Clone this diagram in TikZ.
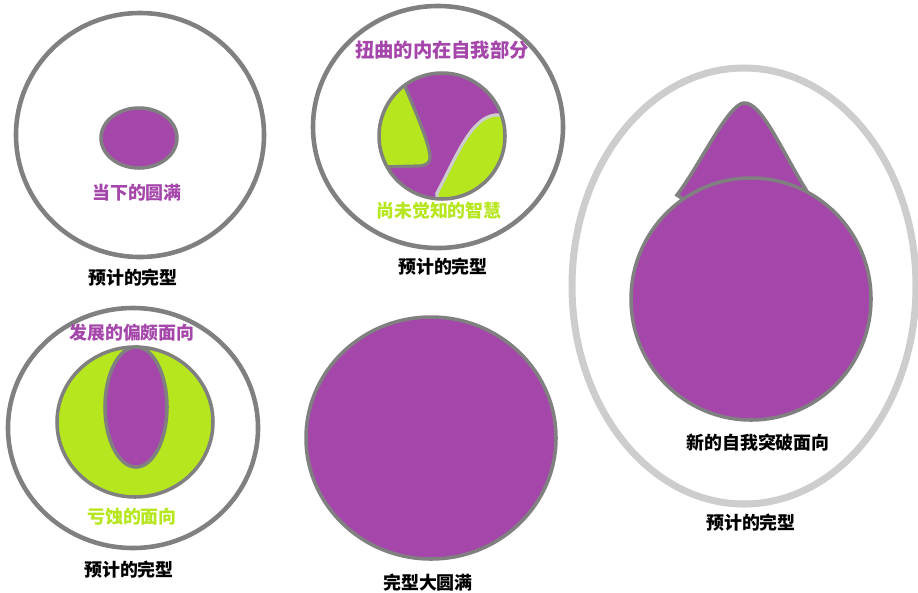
\documentclass[tikz,border=0pt]{standalone}
\usepackage{fontspec}
\setmainfont{Noto Sans CJK SC}
\definecolor{selfpurple}{RGB}{165,70,170}
\definecolor{wisdomgreen}{RGB}{182,230,30}
\definecolor{rimgray}{RGB}{128,128,128}
\definecolor{palegray}{RGB}{205,205,205}
\tikzset{
	rim/.style={draw=rimgray, line width=2.6pt},
	core/.style={fill=selfpurple, draw=rimgray, line width=2pt},
	lack/.style={fill=wisdomgreen, draw=rimgray, line width=1.8pt},
	caption/.style={font=\bfseries\fontsize{10.2}{12}\selectfont, text=black, inner sep=0pt},
	purplelabel/.style={font=\bfseries\fontsize{10.2}{12}\selectfont, text=selfpurple, inner sep=0pt},
	greenlabel/.style={font=\bfseries\fontsize{10.2}{12}\selectfont, text=wisdomgreen, inner sep=0pt}
}
\begin{document}
\begin{tikzpicture}[x=0.02cm,y=-0.02cm]
		\useasboundingbox (0,0) rectangle (918,592);
		% top left: small core
		\draw[rim] (140,135) ellipse (124 and 122);
		\draw[core] (139,138) ellipse (38 and 30);
		\node[purplelabel] (now) at (137,193) {当下的圆满};
		% top middle: distorted parts
		\draw[rim] (438,127) ellipse (125 and 121);
		\fill[selfpurple] (442,136) circle (63);
		\begin{scope}
		\clip (442,136) circle (63);
		\draw[lack] (398,72) -- (403,82) .. controls (415,110) and (430,145) .. (430,157)
			.. controls (430,164) and (425,166) .. (417,166) -- (380,167) -- (370,167) -- (370,70) -- cycle;
		\draw[lack, draw=palegray] (437,210) -- (437,193) .. controls (455,160) and (470,118) .. (495,115)
			.. controls (502,114) and (507,118) .. (512,122) -- (530,122) -- (530,210) -- cycle;
		\end{scope}
		\draw[rimgray, line width=2pt] (442,136) circle (63);
		\node[purplelabel, font=\bfseries\fontsize{11}{13}\selectfont] (twisted) at (442,50) {扭曲的内在自我部分};
		\node[greenlabel] (unaware) at (439,211) {尚未觉知的智慧};
		% bottom left: one-sided growth
		\draw[rim] (133,428) ellipse (125 and 120);
		\draw[lack, line width=2pt] (135,422) ellipse (78 and 75);
		\draw[core] (136,407) ellipse (31 and 60);
		\node[purplelabel] (biased) at (132,333) {发展的偏颇面向};
		\node[greenlabel] (eroded) at (132,517) {亏蚀的面向};
		% bottom middle: full circle
		\draw[core] (431,438) ellipse (125 and 121);
		\node[caption] (whole) at (428,583) {完型大圆满};
		% right: breakthrough
		\draw[palegray, line width=4pt] (744,286) ellipse (172 and 218);
		\draw[core] (677,195) .. controls (700,165) and (728,104) .. (744,103)
			.. controls (762,102) and (782,152) .. (808,193) -- (743,240) -- cycle;
		\draw[core] (751,299) ellipse (120 and 121);
		\node[caption] (breakthrough) at (758,443) {新的自我突破面向};
		\foreach \cx/\cy/\nm in {133/278/capA, 443/267/capB, 129/570/capC, 751/523/capD}
		\node[caption] (\nm) at (\cx,\cy) {预计的完型};
	\end{tikzpicture}
\end{document}
